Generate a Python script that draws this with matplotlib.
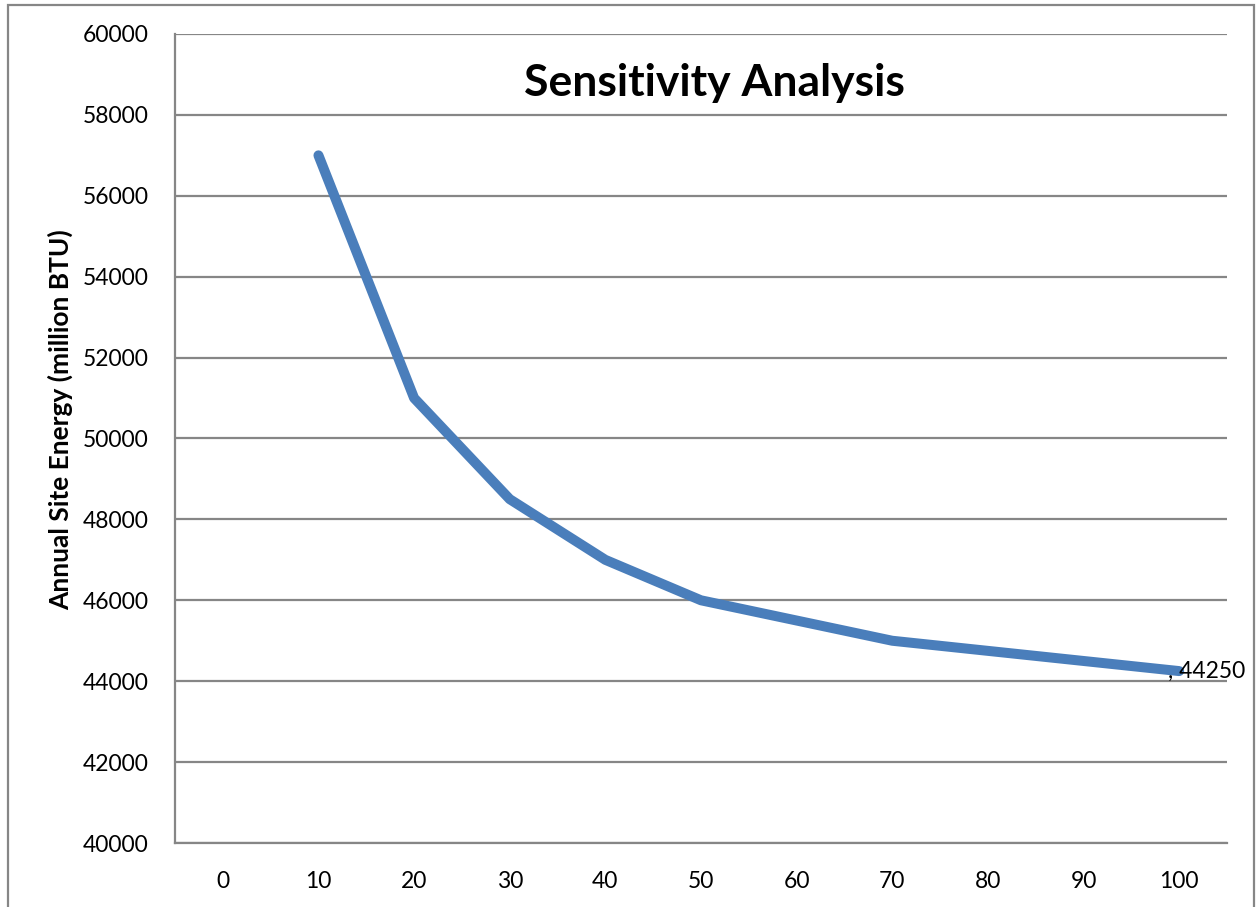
import matplotlib.pyplot as plt
from matplotlib.patches import Rectangle
import numpy as np

# data
categories = ["0", "10", "20", "30", "40", "50", "60", "70", "80", "90", "100"]
energy = [np.nan, 57000, 51000, 48500, 47000, 46000, 45500, 45000, 44750, 44500, 44250]
y_ticks = [40000, 42000, 44000, 46000, 48000, 50000, 52000, 54000, 56000, 58000, 60000]

plt.rcParams['font.family'] = ['Lato', 'DejaVu Sans']

fig = plt.figure(figsize=(12.57, 9.07), dpi=100)
ax = fig.add_axes([175 / 1257, 1 - 843 / 907, 1052 / 1257, 809 / 907])

x = np.arange(len(categories))
ax.plot(x, energy, color='#4a7ebb', linewidth=7.2, solid_capstyle='round', solid_joinstyle='round')

# label on last point
ax.annotate(", " + str(energy[-1]), (x[-1], energy[-1]), xytext=(-8, 0), textcoords='offset points',
            ha='left', va='center', fontsize=16.5)

ax.set_xlim(-0.5, len(categories) - 0.5)
ax.set_ylim(40000, 60000)
ax.set_xticks(x)
ax.set_xticklabels(categories)
ax.set_yticks(y_ticks)
ax.set_yticklabels([str(v) for v in y_ticks])
ax.tick_params(length=0, labelsize=16.5, colors='black')
ax.tick_params(axis='y', pad=19)
ax.tick_params(axis='x', pad=20)
ax.grid(axis='y', color='#868686', linewidth=1.6)
ax.set_axisbelow(True)
for s in ['top', 'right']:
    ax.spines[s].set_visible(False)
for s in ['left', 'bottom']:
    ax.spines[s].set_color('#868686')
    ax.spines[s].set_linewidth(1.6)

fig.text(714 / 1257, 1 - 83 / 907, "Sensitivity Analysis", ha='center', va='center',
         fontsize=32, fontweight='bold')
fig.text(60 / 1257, 1 - 420 / 907, "Annual Site Energy (million BTU)", ha='center', va='center',
         rotation=90, fontsize=19, fontweight='bold')

# outer chart border
fig.patches.append(Rectangle((8 / 1257, -0.01), 1246 / 1257, 1.01 - 5 / 907, transform=fig.transFigure,
                             fill=False, edgecolor='#868686', linewidth=1.6, clip_on=False))

fig.savefig("out.png", dpi=100)
